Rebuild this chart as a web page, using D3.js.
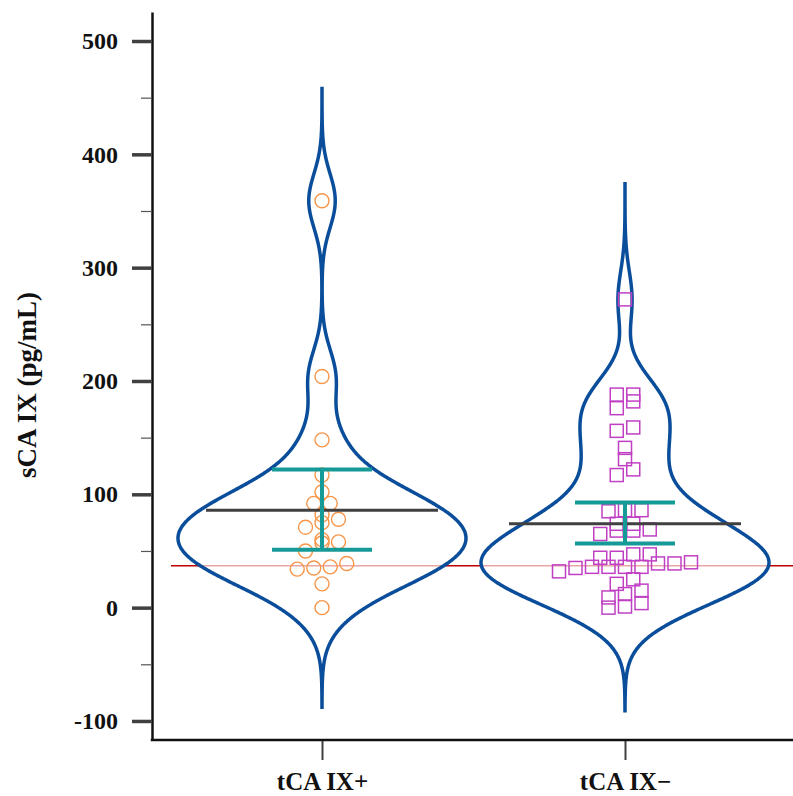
<!DOCTYPE html>
<html>
<head>
<meta charset="utf-8">
<script src="https://cdn.jsdelivr.net/npm/d3@7"></script>
<style>
  body { margin: 0; background: #fff; }
  svg { display: block; }
</style>
</head>
<body>
<svg id="chart" width="793" height="796"></svg>
<script>
// categories and raw values (pg/mL)
const groups = ["tCA IX+", "tCA IX\u2212"];
const posValues = [0, 21, 34, 35, 36, 39, 50, 57, 58, 60, 71, 75, 78, 82, 92, 92, 102, 117, 148, 204, 359];
const negValues = [0, 1, 4, 9, 12, 15, 21, 25, 32, 35, 36, 36, 36, 36, 39, 39, 40, 44, 44, 47, 47,
  65, 68, 68, 69, 74, 74, 85, 86, 86, 117, 122, 131, 141, 156, 159, 176, 182, 188, 188, 272];

// summary lines (mean, 95% CI)
const means = [86, 74];
const ciLow = [51, 56.5];
const ciHigh = [122, 92.7];

// violin kernel bandwidth and drawn extent
const bandwidths = [24, 25];
const violinLo = [-88, -91];
const violinHi = [458, 374];
const cutoff = 37;

const yTicks = [-100, 0, 100, 200, 300, 400, 500];
const yMinorTicks = [-50, 50, 150, 250, 350, 450];

const svg = d3.select("#chart");
const font = "'Liberation Serif', 'Times New Roman', serif";

const y = d3.scaleLinear().domain([-116.8, 525.6]).range([740, 12]);
const x = d3.scalePoint().domain(groups).range([322, 625]);
const leftX = 152, bottomY = 740;

// reference (cut-off) line, sits under the violins
svg.append("line")
  .attr("x1", 171).attr("x2", 793)
  .attr("y1", y(cutoff)).attr("y2", y(cutoff))
  .attr("stroke", "#c00000").attr("stroke-width", 1.4);

// kernel density
function kde(values, h, lo, hi) {
  const out = [];
  for (let v = lo; v <= hi + 0.001; v += 1) {
    let s = 0;
    values.forEach(p => { const u = (v - p) / h; s += Math.exp(-0.5 * u * u); });
    out.push([v, s / (values.length * h * Math.sqrt(2 * Math.PI))]);
  }
  return out;
}

const allValues = [posValues, negValues];

allValues.forEach((vals, i) => {
  const cx = x(groups[i]);
  const dens = kde(vals, bandwidths[i], violinLo[i], violinHi[i]);
  const w = d3.scaleLinear().domain([0, d3.max(dens, d => d[1])]).range([0, 144]);
  const area = d3.area()
    .y(d => y(d[0]))
    .x0(d => cx - w(d[1]))
    .x1(d => cx + w(d[1]))
    .curve(d3.curveBasis);
  svg.append("path")
    .datum(dens)
    .attr("d", area)
    .attr("fill", "#fff").attr("fill-opacity", 0.65)
    .attr("stroke", "#0a4e9b").attr("stroke-width", 3.5);
});

// dot-plot layout: greedy bins, spread sideways inside a bin
function layout(values, binW, step) {
  const sorted = values.slice().sort((a, b) => a - b);
  const bins = [];
  sorted.forEach(v => {
    const last = bins[bins.length - 1];
    if (last && v - last[0] < binW) last.push(v);
    else bins.push([v]);
  });
  const pts = [];
  bins.forEach(b => b.forEach((v, k) => pts.push({ v: v, dx: (k - (b.length - 1) / 2) * step })));
  return pts;
}

// points
const posPts = layout(posValues, 9, 16.5);
svg.append("g").selectAll("circle")
  .data(posPts).join("circle")
  .attr("cx", d => x(groups[0]) + d.dx)
  .attr("cy", d => y(d.v))
  .attr("r", 7)
  .attr("fill", "none")
  .attr("stroke", "#f7964a").attr("stroke-width", 1.4);

const negPts = layout(negValues, 9, 16.5);
const sq = 13;
svg.append("g").selectAll("rect")
  .data(negPts).join("rect")
  .attr("x", d => x(groups[1]) + d.dx - sq / 2)
  .attr("y", d => y(d.v) - sq / 2)
  .attr("width", sq).attr("height", sq)
  .attr("fill", "none")
  .attr("stroke", "#c040c4").attr("stroke-width", 1.5);

// mean and CI bars
groups.forEach((g, i) => {
  const cx = x(g);
  svg.append("line")
    .attr("x1", cx - 116).attr("x2", cx + 116)
    .attr("y1", y(means[i])).attr("y2", y(means[i]))
    .attr("stroke", "#404040").attr("stroke-width", 3);
  const eb = svg.append("g").attr("stroke", "#169a97").attr("stroke-width", 4);
  eb.append("line").attr("x1", cx).attr("x2", cx).attr("y1", y(ciLow[i])).attr("y2", y(ciHigh[i]));
  [ciLow[i], ciHigh[i]].forEach(v => {
    eb.append("line").attr("x1", cx - 50).attr("x2", cx + 50).attr("y1", y(v)).attr("y2", y(v));
  });
});

// y axis
const yAxis = svg.append("g").attr("transform", `translate(${leftX},0)`)
  .call(d3.axisLeft(y).tickValues(yTicks).tickSize(20).tickSizeOuter(0).tickPadding(14)
    .tickFormat(d => String(d)));
yAxis.select(".domain").attr("stroke", "#111").attr("stroke-width", 2.5);
yAxis.selectAll(".tick line").attr("stroke", "#404040").attr("stroke-width", 3.5);
yAxis.selectAll(".tick text")
  .attr("font-family", font).attr("font-weight", "bold").attr("font-size", 24).attr("fill", "#111");

const yMinor = svg.append("g").attr("transform", `translate(${leftX},0)`)
  .call(d3.axisLeft(y).tickValues(yMinorTicks).tickSize(11).tickFormat(""));
yMinor.select(".domain").remove();
yMinor.selectAll(".tick line").attr("stroke", "#555").attr("stroke-width", 1.2);

// x axis
const xAxis = svg.append("g").attr("transform", `translate(0,${bottomY})`)
  .call(d3.axisBottom(x).tickSize(20).tickPadding(12));
xAxis.select(".domain").remove();
xAxis.selectAll(".tick line").attr("stroke", "#404040").attr("stroke-width", 2);
xAxis.selectAll(".tick text")
  .attr("font-family", font).attr("font-weight", "bold").attr("font-size", 25).attr("fill", "#111");
svg.append("line")
  .attr("x1", leftX - 1.25).attr("x2", 793)
  .attr("y1", bottomY).attr("y2", bottomY)
  .attr("stroke", "#111").attr("stroke-width", 2.5);

// y title
svg.append("text")
  .attr("transform", "translate(36,385) rotate(-90)")
  .attr("text-anchor", "middle")
  .attr("font-family", font).attr("font-weight", "bold").attr("font-size", 27)
  .attr("fill", "#111")
  .text("sCA IX (pg/mL)");
</script>
</body>
</html>
